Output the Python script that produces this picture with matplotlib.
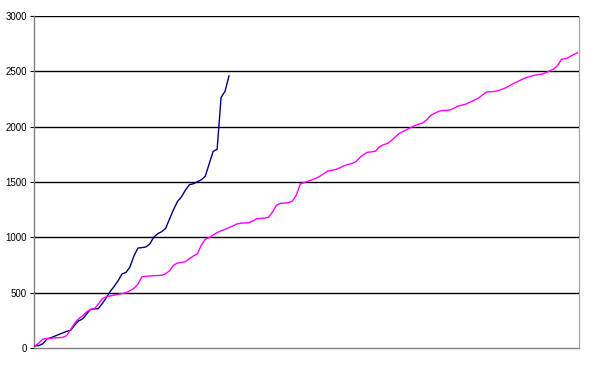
import numpy as np
import matplotlib
matplotlib.use("Agg")
import matplotlib.pyplot as plt

# values, one point per category step
navy_vals = [19, 22, 39, 81, 93, 107, 122, 136, 150, 160,
             206, 245, 262, 305, 350, 353, 356, 402, 453, 512,
             556, 609, 670, 683, 733, 833, 903, 907, 913, 940,
             1002, 1033, 1051, 1081, 1167, 1252, 1324, 1366, 1427, 1476,
             1484, 1502, 1520, 1551, 1665, 1777, 1795, 2265, 2319, 2460]

magenta_vals = [20, 45, 81, 86, 89, 91, 93, 96, 112, 167,
                223, 264, 290, 326, 347, 354, 397, 446, 463, 470,
                478, 485, 492, 499, 518, 539, 577, 644, 648, 651,
                653, 655, 657, 671, 698, 747, 768, 773, 780, 808,
                831, 851, 928, 983, 997, 1020, 1044, 1058, 1073, 1087,
                1104, 1121, 1128, 1130, 1132, 1147, 1168, 1171, 1174, 1181,
                1229, 1290, 1307, 1310, 1312, 1327, 1381, 1483, 1495, 1507,
                1520, 1534, 1553, 1577, 1600, 1607, 1613, 1628, 1646, 1658,
                1667, 1682, 1720, 1748, 1769, 1772, 1779, 1818, 1837, 1848,
                1874, 1906, 1939, 1957, 1975, 1993, 2011, 2024, 2035, 2064,
                2104, 2122, 2139, 2146, 2148, 2153, 2170, 2188, 2196, 2206,
                2224, 2241, 2258, 2285, 2313, 2316, 2318, 2325, 2339, 2353,
                2373, 2393, 2410, 2427, 2443, 2454, 2464, 2470, 2474, 2487,
                2504, 2520, 2552, 2610, 2613, 2630, 2651, 2668]

y_ticks = [0, 500, 1000, 1500, 2000, 2500, 3000]

plt.rcParams['font.family'] = ['Liberation Sans', 'DejaVu Sans']

fig = plt.figure(figsize=(6, 3.73), dpi=100)
ax = fig.add_axes([34 / 600, 25 / 373, 545 / 600, 332 / 373])

ax.plot(np.arange(len(navy_vals)), navy_vals, color='#000080', lw=1.0, zorder=3)
ax.plot(np.arange(len(magenta_vals)), magenta_vals, color='#FF00FF', lw=1.0, zorder=3)

ax.set_ylim(0, 3000)
ax.set_xlim(-0.25, len(magenta_vals) - 1 + 0.4)
ax.set_yticks(y_ticks)
ax.set_yticklabels([str(t) for t in y_ticks], fontsize=7)
ax.set_xticks([])
ax.tick_params(axis='y', length=3, width=0.8, pad=2, color='#000000')

for t in y_ticks[1:]:
    ax.axhline(t, color='black', lw=1.0, zorder=1)

for side in ['left', 'bottom']:
    ax.spines[side].set_color('#808080')
    ax.spines[side].set_linewidth(1.0)
ax.spines['right'].set_color('#a0a0a0')
ax.spines['top'].set_visible(False)

fig.savefig('out.png', dpi=100)
